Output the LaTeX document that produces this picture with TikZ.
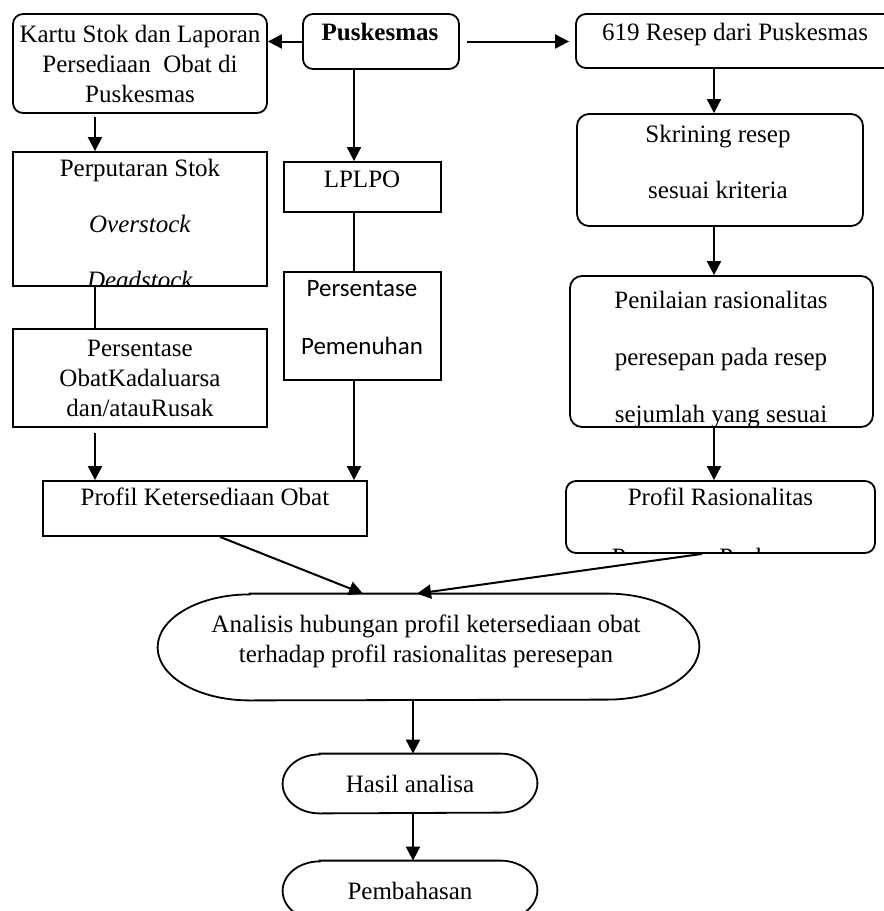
\documentclass[tikz,border=0pt]{standalone}
\usepackage{fontspec}
\setmainfont{Liberation Serif}
\newfontfamily\calibrifont{Carlito}
\usetikzlibrary{arrows.meta}

\tikzstyle{flow_box}=[rectangle,
                      draw=black,
                      line width=0.9pt,
                      inner sep=0pt,
                      align=center,
                      font=\fontsize{12.5}{15}\selectfont]
\tikzstyle{round_box}=[flow_box, rounded corners=5pt]
\tikzstyle{box_text}=[inner sep=0pt, align=center, font=\fontsize{12.5}{15}\selectfont]
\tikzstyle{oval_line}=[draw=black, line width=0.9pt]
\tikzstyle{flow_arrow}=[line width=1pt, -{Triangle[length=7pt,width=7pt]}]
\tikzstyle{flow_line}=[line width=1pt]

% outline with elliptic ends round a named node: name, x radius, y radius
\newcommand{\ovaloutline}[3]{%
  \draw[oval_line] ([xshift=#2]#1.north west) -- ([xshift=-#2]#1.north east)
    arc[start angle=90, end angle=-90, x radius=#2, y radius=#3]
    -- ([xshift=#2]#1.south west)
    arc[start angle=270, end angle=90, x radius=#2, y radius=#3] -- cycle;
}

\begin{document}
\begin{tikzpicture}[x=0.5pt, y=-0.5pt]
  \useasboundingbox (0,0) rectangle (884,911);
  \coordinate (left_col) at (95,0);
  \coordinate (mid_col) at (354,0);
  \coordinate (right_col) at (714,0);
  \coordinate (bottom_col) at (413,0);

  % top row
  \node at (140,63.5) (stockcard) [round_box, minimum width=127pt, minimum height=49.5pt]
    {Kartu Stok dan Laporan\\Persediaan\ \ Obat di\\Puskesmas};
  \node at (381,41.5) (puskesmas) [round_box, minimum width=78pt, minimum height=27.5pt] {};
  \node at (380,40) (puskesmas_txt) [box_text, anchor=base] {\textbf{Puskesmas}};
  \node at (735,41) (prescriptions) [round_box, minimum width=159pt, minimum height=27pt] {};
  \node at (735,40) (prescriptions_txt) [box_text, anchor=base] {619 Resep dari Puskesmas};

  % left column
  \node at (140,219) (turnover) [flow_box, minimum width=127pt, minimum height=67pt] {};
  \begin{scope}
    \clip (turnover.south west) rectangle (turnover.north east);
    \node at (140,224) (turnover_txt) [box_text]
      {Perputaran Stok\\[13pt]\textit{Overstock}\\[13pt]\textit{Deadstock}};
  \end{scope}
  \node at (140,378) (expired) [flow_box, minimum width=127pt, minimum height=49pt]
    {Persentase\\ObatKadaluarsa\\dan/atauRusak};

  % middle column
  \node at (362.5,187) (lplpo) [flow_box, minimum width=78.5pt, minimum height=25pt] {};
  \node at (362,187) (lplpo_txt) [box_text, anchor=base] {LPLPO};
  \node at (362.5,326) (fulfilment) [flow_box, minimum width=78.5pt, minimum height=54pt] {};
  \node at (362,318) (fulfilment_txt) [box_text, font=\calibrifont\fontsize{12.5}{15}\selectfont]
    {Persentase\\[14pt]Pemenuhan};
  \node at (205,508.5) (availability) [flow_box, minimum width=162pt, minimum height=27.5pt] {};
  \node at (205,505) (availability_txt) [box_text, anchor=base] {Profil Ketersediaan Obat};

  % right column
  \node at (720,170) (screening) [round_box, rounded corners=6pt, minimum width=143pt, minimum height=56pt] {};
  \node at (718,161.5) (screening_txt) [box_text] {Skrining resep\\[13pt]sesuai kriteria};
  \node at (721.5,351.5) (assessment) [round_box, rounded corners=6pt, minimum width=151.5pt, minimum height=75.5pt] {};
  \begin{scope}
    \clip (assessment.south west) rectangle (assessment.north east);
    \node at (721,360) (assessment_txt) [box_text]
      {Penilaian rasionalitas\\[13.5pt]peresepan pada resep\\[13.5pt]sejumlah yang sesuai};
  \end{scope}
  \node at (720.5,517) (rationality) [round_box, minimum width=154.5pt, minimum height=36pt] {};
  \begin{scope}
    \clip (rationality.south west) rectangle (rationality.north east);
    \node at (720.5,529) (rationality_txt) [box_text]
      {Profil Rasionalitas\\[15pt]Peresepan Puskesmas};
  \end{scope}

  % bottom
  \node at (428.5,647) (analysis) [inner sep=0pt, minimum width=270.5pt, minimum height=53pt] {};
  \ovaloutline{analysis}{46pt}{26.5pt}
  \node at (426,641.5) (analysis_txt) [box_text]
    {Analisis hubungan profil ketersediaan obat\\terhadap profil rasionalitas peresepan};
  \node at (410,783.5) (result) [box_text, minimum width=127pt, minimum height=29.5pt] {Hasil analisa};
  \ovaloutline{result}{18.5pt}{14.75pt}
  \node at (410,890.5) (discussion) [box_text, minimum width=127pt, minimum height=29.5pt] {Pembahasan};
  \ovaloutline{discussion}{18.5pt}{14.75pt}

  % connectors
  \draw[flow_arrow] (puskesmas.west) -- (puskesmas.west -| stockcard.east);
  \draw[flow_arrow, shorten <=3.5pt, shorten >=3pt] (puskesmas.east) -- (puskesmas.east -| prescriptions.west);
  \draw[flow_arrow] (puskesmas.south -| mid_col) -- (lplpo.north -| mid_col);
  \draw[flow_line] (lplpo.south -| mid_col) -- (fulfilment.north -| mid_col);
  \draw[flow_arrow] (fulfilment.south -| mid_col) -- (availability.north -| mid_col);
  \draw[flow_arrow, shorten <=1.5pt] (stockcard.south -| left_col) -- (turnover.north -| left_col);
  \draw[flow_line] (turnover.south -| left_col) -- (expired.north -| left_col);
  \draw[flow_arrow, shorten <=2.5pt] (expired.south -| left_col) -- (availability.north -| left_col);
  \draw[flow_arrow] (prescriptions.south -| right_col) -- (screening.north -| right_col);
  \draw[flow_arrow] (screening.south -| right_col) -- (assessment.north -| right_col);
  \draw[flow_arrow] (assessment.south -| right_col) -- (rationality.north -| right_col);
  \draw[flow_arrow] ([xshift=7.5pt]availability.south) -- ([xshift=-32.75pt]analysis.north);
  \draw[flow_arrow] ([xshift=-9.25pt]rationality.south) -- ([xshift=-5.75pt]analysis.north);
  \draw[flow_arrow] (analysis.south -| bottom_col) -- (result.north -| bottom_col);
  \draw[flow_arrow] (result.south -| bottom_col) -- (discussion.north -| bottom_col);
\end{tikzpicture}
\end{document}
